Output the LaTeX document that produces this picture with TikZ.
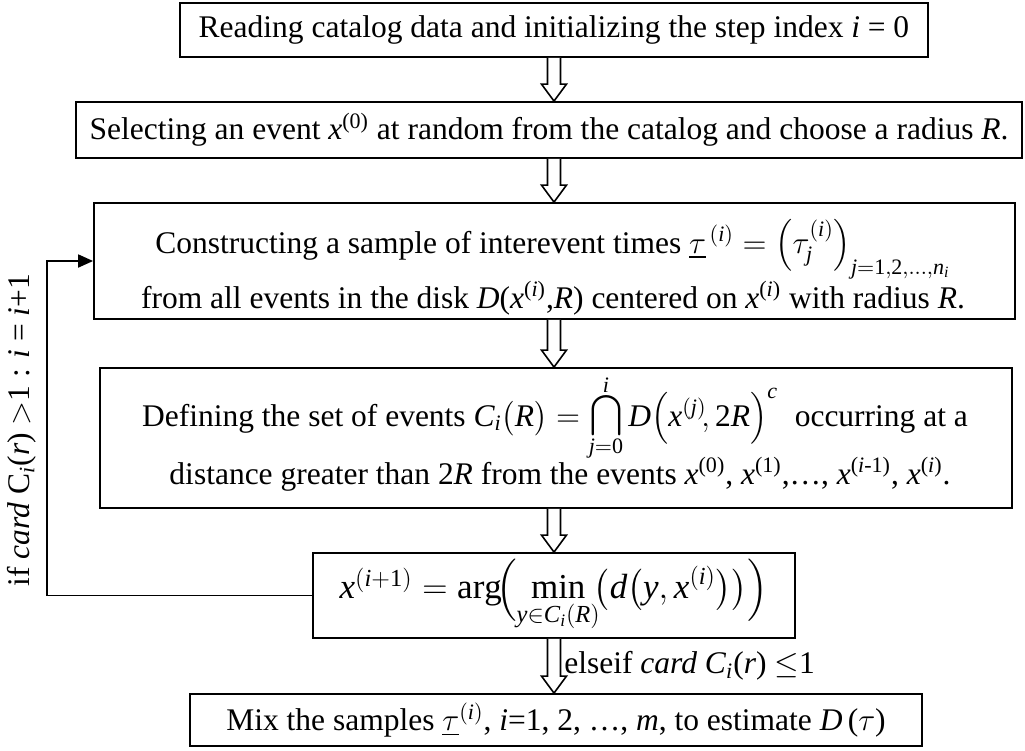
\RequirePackage{fix-cm}
\documentclass[tikz,border=0pt]{standalone}
\usepackage{amsmath}
\usepackage{fontspec}
\setmainfont{Liberation Serif}
\usetikzlibrary{calc,arrows.meta}
\newcommand{\mi}[1]{\mathit{#1}}
\newcommand{\rd}[1]{\mathrm{#1}}
\newcommand{\capop}[2]{\mathop{\vcenter{\offinterlineskip\halign{\hfil##\hfil\cr
  $\scriptstyle #2$\cr\noalign{\kern0pt}$\displaystyle\bigcap$\cr\noalign{\kern0.5pt}$\scriptstyle #1$\cr}}}}
\tikzset{
  box/.style={draw, line width=0.9pt, inner sep=0pt, align=center, font=\fontsize{15.75}{19}\selectfont},
  txt/.style={inner sep=0pt, anchor=base, font=\fontsize{15.75}{19}\selectfont},
  hollow/.style={draw, line width=0.8pt, fill=white},
  backloop/.style={draw, line width=0.9pt, -{Triangle[length=7.5pt,width=6.5pt]}},
  lbl/.style={font=\fontsize{15.75}{19}\selectfont, inner sep=0pt}
}
\newcommand{\hollowdown}[2]{%
  \path[hollow] let \p1=(#1), \p2=(#2) in
  (\x1-3.25pt,\y1) -- (\x1-3.25pt,\y2+8.5pt) -- (\x1-6.25pt,\y2+8.5pt) -- (\x1,\y2)
  -- (\x1+6.25pt,\y2+8.5pt) -- (\x1+3.25pt,\y2+8.5pt) -- (\x1+3.25pt,\y1);}
\begin{document}
\begin{tikzpicture}[x=0.5pt,y=-0.5pt]
\useasboundingbox (0,0) rectangle (1025,751);
% boxes
\node[box, minimum width=374pt, minimum height=27pt] (b1) at (554,30)
  {Reading catalog data and initializing the step index \textit{i} = 0};
\node[box, minimum width=473pt, minimum height=28pt] (b2) at (549,130)
  {Selecting an event \textit{x}\textsuperscript{(0)} at random from the catalog and choose a radius \textit{R}.};
\node[box, minimum width=460.5pt, minimum height=58pt] (b3) at (554.5,261) {};
\node[txt] (b3a) at (553,253)
  {Constructing a sample of interevent times $\underline{\tau}^{\,(\mi{i})}=\Bigl(\tau_{\mi{j}}^{(\mi{i})}\Bigr)_{\mi{j}=\rd{1},\rd{2},\dots,\mi{n}_{\mi{i}}}$};
\node[txt] (b3b) at (553,308)
  {from all events in the disk \textit{D}(\textit{x}\textsuperscript{(\textit{i})},\textit{R}) centered on \textit{x}\textsuperscript{(\textit{i})} with radius \textit{R}.};
\node[box, minimum width=456pt, minimum height=70pt] (b4) at (556,438) {};
\node[txt] (b4a) at (555,426)
  {Defining the set of events $\mi{C}_{\mi{i}}\bigl(\mi{R}\bigr)=\capop{\mi{j}=\rd{0}}{\mi{i}}\mi{D}\Bigl(\mi{x}^{(\mi{j})}\!,\rd{2}\mi{R}\Bigr)^{\mi{c}}$\; occurring at a};
\node[txt] (b4b) at (560,484)
  {distance greater than 2\textit{R} from the events \textit{x}\textsuperscript{(0)}, \textit{x}\textsuperscript{(1)},\dots, \textit{x}\textsuperscript{(\textit{i}-1)}, \textit{x}\textsuperscript{(\textit{i})}.};
\node[box, minimum width=241pt, minimum height=42.5pt, font=\fontsize{17.5}{21}\selectfont] (b5) at (554,595.5)
  {$\mi{x}^{(\mi{i}+\rd{1})}=\arg\!\Bigl(\displaystyle\min_{\mi{y}\in \mi{C}_{\mi{i}}(\mi{R})}\!\bigl(\mi{d}\bigl(\mi{y},\mi{x}^{(\mi{i})}\bigr)\bigr)\Bigr)$};
\node[box, minimum width=366pt, minimum height=26pt] (b6) at (556,720)
  {Mix the samples $\underline{\tau}^{(\mi{i})}$, \textit{i}=1, 2, \dots, \textit{m}, to estimate \textit{D}\,($\tau$)};
% block arrows
\coordinate (ax) at (554,0);
\hollowdown{ax |- b1.south}{ax |- b2.north}
\hollowdown{ax |- b2.south}{ax |- b3.north}
\hollowdown{ax |- b3.south}{ax |- b4.north}
\hollowdown{ax |- b4.south}{ax |- b5.north}
\hollowdown{ax |- b5.south}{ax |- b6.north}
% feedback loop
\coordinate (lc) at (47,0);
\draw[backloop] (b5.west) -| (lc |- b3.west) -- (b3.west);
\node[lbl, rotate=90] (cond) at (22,430)
  {if \textit{card} C\textsubscript{\textit{i}}(\textit{r}) $>$1 : \textit{i} = \textit{i}+1};
\node[lbl, anchor=west] (els) at ($(ax |- b5.south)!0.5!(ax |- b6.north)+(5pt,0)$)
  {elseif \textit{card C}\textsubscript{\textit{i}}(\textit{r}) $\leq$1};
\end{tikzpicture}
\end{document}
